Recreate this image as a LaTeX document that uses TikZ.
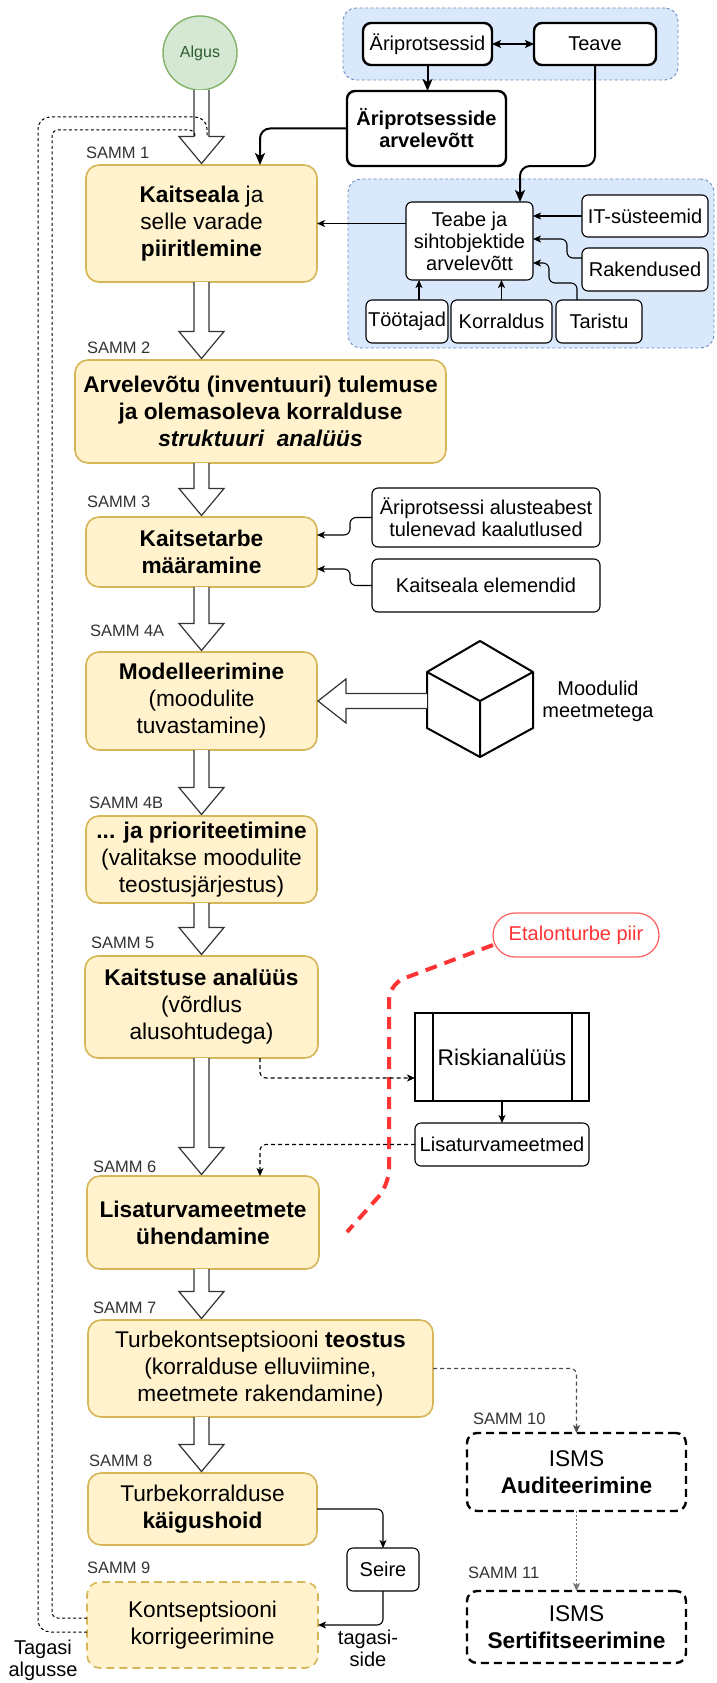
\documentclass[tikz,border=0pt]{standalone}
\usepackage{fontspec}
\setmainfont{Liberation Sans}
\usetikzlibrary{arrows.meta,calc}

\definecolor{yfill}{HTML}{FFF2CC}
\definecolor{ydraw}{HTML}{D6B656}
\definecolor{bfill}{HTML}{DAE8FC}
\definecolor{bdraw}{HTML}{6C8EBF}
\definecolor{gfill}{HTML}{D5E8D4}
\definecolor{gdraw}{HTML}{82B366}
\definecolor{gtext}{HTML}{2E5C2E}
\definecolor{redline}{HTML}{FF3333}
\definecolor{redpill}{HTML}{FF6666}
\definecolor{labelgray}{HTML}{333333}

\newcommand\fbig{\fontsize{22.7}{27}\selectfont}
\newcommand\fmid{\fontsize{20}{22}\selectfont}
\newcommand\fsmall{\fontsize{16.5}{19}\selectfont}

\tikzset{
  every node/.style={inner sep=0pt, outer sep=0pt},
  stepbox/.style={draw=ydraw, fill=yfill, line width=1.6pt, rounded corners=13pt,
    align=center, font=\fbig},
  groupbox/.style={draw=bdraw, fill=bfill, line width=0.9pt, dash pattern=on 3pt off 2.5pt,
    rounded corners=13pt},
  smallbox/.style={draw=black, fill=white, line width=1.1pt, rounded corners=6pt,
    align=center, font=\fmid},
  thickbox/.style={draw=black, fill=white, line width=2.4pt, rounded corners=8pt,
    align=center, font=\fmid},
  ismsbox/.style={draw=black, fill=white, line width=2.4pt, dash pattern=on 8pt off 5pt,
    rounded corners=10pt, align=center, font=\fbig},
  samm/.style={anchor=west, font=\fsmall, text=labelgray},
  note/.style={align=center, font=\fmid},
  blockarrow/.style={draw=black!80, fill=white, line width=1.2pt, line join=miter},
  thin tip/.style={-{Stealth[length=8pt,width=7pt,inset=2pt]}},
  conn/.style={draw=black, line width=1.1pt, rounded corners=6pt, thin tip},
  thickconn/.style={draw=black, line width=2pt, rounded corners=10pt,
    -{Stealth[length=12pt,width=10pt,inset=3pt]}},
  dashconn/.style={conn, dash pattern=on 4pt off 3pt},
  feedback/.style={draw=black, line width=1pt, dash pattern=on 3pt off 2.5pt},
  redbound/.style={draw=redline, line width=4pt, dash pattern=on 12pt off 8pt,
    rounded corners=16pt},
}

% hollow block arrow on the main axis, from one step box down to the next
\newcommand\blockdown[2]{%
  \filldraw[blockarrow] let \p1=(#1.south), \p2=(#2.north) in
    (194pt,\y1) -- (194pt,\y2+28.5pt) -- (179pt,\y2+28.5pt) -- (201.5pt,\y2+1.5pt)
    -- (224pt,\y2+28.5pt) -- (209pt,\y2+28.5pt) -- (209pt,\y1);}

\begin{document}
\begin{tikzpicture}[x=1pt, y=-1pt]
\fill[white] (0,0) rectangle (716,1683);
\useasboundingbox (0,0) rectangle (716,1683);

% ---------- blue groups ----------
\node[groupbox, minimum width=335pt, minimum height=72pt] (grpTop) at (510.5,44) {};
\node[groupbox, minimum width=366pt, minimum height=169pt] (grpBot) at (531,263.5) {};

% ---------- start ----------
\node[circle, draw=gdraw, fill=gfill, line width=1.4pt, minimum size=74pt,
      font=\fontsize{16}{18}\selectfont, text=gtext] (algus) at (200,53) {Algus};

% ---------- business processes ----------
\node[thickbox, minimum width=129pt, minimum height=42pt] (aripr) at (427.5,44) {Äriprotsessid};
\node[thickbox, minimum width=122pt, minimum height=42pt] (teave) at (595,44) {Teave};
\node[thickbox, minimum width=159pt, minimum height=75pt, font=\fmid\bfseries] (ariarv)
  at (426.5,128.5) {Äriprotsesside\\arvelevõtt};

% ---------- inventory of information and targets ----------
\node[smallbox, minimum width=127pt, minimum height=78pt] (teabe) at (469.5,241)
  {Teabe ja\\sihtobjektide\\arvelevõtt};
\node[smallbox, minimum width=126pt, minimum height=42pt] (itsys) at (645,216) {IT-süsteemid};
\node[smallbox, minimum width=126pt, minimum height=43pt] (raken) at (645,269.5) {Rakendused};
\node[smallbox, minimum width=82pt, minimum height=43pt] (tootajad) at (407,321.5) {Töötajad};
\node[smallbox, minimum width=101pt, minimum height=43pt] (korr) at (501.5,321.5) {Korraldus};
\node[smallbox, minimum width=86pt, minimum height=43pt] (taristu) at (599,321.5) {Taristu};

% ---------- main steps ----------
\node[stepbox, minimum width=231pt, minimum height=117pt] (kaitseala) at (201.5,223.5)
  {\textbf{Kaitseala} ja\\selle varade\\\textbf{piiritlemine}};
\node[stepbox, minimum width=371pt, minimum height=103pt, font=\fbig\bfseries] (arvel)
  at (260.5,411.5)
  {Arvelevõtu (inventuuri) tulemuse\\ja olemasoleva korralduse\\\textit{struktuuri\ \ analüüs}};
\node[stepbox, minimum width=231pt, minimum height=70pt, font=\fbig\bfseries] (kaitsetarbe)
  at (201.5,552) {Kaitsetarbe\\määramine};
\node[stepbox, minimum width=231pt, minimum height=98pt] (model) at (201.5,701)
  {\textbf{Modelleerimine}\\(moodulite\\tuvastamine)};
\node[stepbox, minimum width=231pt, minimum height=87pt] (prior) at (201.5,859.5)
  {\textbf{... ja prioriteetimine}\\(valitakse moodulite\\teostusjärjestus)};
\node[stepbox, minimum width=233pt, minimum height=102pt] (kaitstus) at (201.5,1007)
  {\textbf{Kaitstuse analüüs}\\(võrdlus\\alusohtudega)};
\node[stepbox, minimum width=232pt, minimum height=93pt, font=\fbig\bfseries] (lisaUh)
  at (203,1222.5) {Lisaturvameetmete\\ühendamine};
\node[stepbox, minimum width=345pt, minimum height=97pt] (turbekont) at (260.5,1368.5)
  {Turbekontseptsiooni \textbf{teostus}\\(korralduse elluviimine,\\meetmete rakendamine)};
\node[stepbox, minimum width=229pt, minimum height=72pt] (turbekorr) at (202.5,1509)
  {Turbekorralduse\\\textbf{käigushoid}};
\node[stepbox, dash pattern=on 8pt off 5pt, minimum width=231pt, minimum height=86pt]
  (korrig) at (202.5,1625) {Kontseptsiooni\\korrigeerimine};

% ---------- side inputs ----------
\node[smallbox, minimum width=228pt, minimum height=59pt] (ariAlus) at (486,517.5)
  {Äriprotsessi alusteabest\\tulenevad kaalutlused};
\node[smallbox, minimum width=228pt, minimum height=53pt] (kaitseEl) at (486,585.5)
  {Kaitseala elemendid};

% ---------- module cube ----------
\filldraw[draw=black, fill=white, line width=2pt, line join=round]
  (480,641) -- (533,672) -- (533,728) -- (480,757) -- (427,728) -- (427,672) -- cycle;
\draw[black, line width=2pt, line join=round] (427,672) -- (480,701) -- (533,672)
  (480,701) -- (480,757);
\coordinate (cubeL) at (427,701);
\node[note, text depth=0pt] (moodulid) at (598,699) {\fontsize{20}{24}\selectfont Moodulid\\meetmetega};

% ---------- risk analysis ----------
\node[draw=black, fill=white, line width=2.4pt, minimum width=174pt, minimum height=88pt,
      font=\fontsize{22.7}{27}\selectfont] (risk) at (502,1057) {Riskianalüüs};
\draw[black, line width=2pt] ([xshift=18pt]risk.north west) -- ([xshift=18pt]risk.south west)
  ([xshift=-17pt]risk.north east) -- ([xshift=-17pt]risk.south east);
\node[smallbox, minimum width=174pt, minimum height=43pt] (lisaMeet) at (502,1144.5)
  {Lisaturvameetmed};
\node[smallbox, minimum width=72pt, minimum height=43pt] (seire) at (383,1569.5) {Seire};

% ---------- ISMS ----------
\node[ismsbox, minimum width=219pt, minimum height=78pt] (audit) at (576.5,1472)
  {ISMS\\\textbf{Auditeerimine}};
\node[ismsbox, minimum width=219pt, minimum height=72pt] (sertif) at (576.5,1627)
  {ISMS\\\textbf{Sertifitseerimine}};

% ---------- baseline boundary ----------
\node[draw=redpill, fill=white, line width=1.3pt, rounded corners=22pt,
      minimum width=166pt, minimum height=44pt, font=\fmid, text=redline] (etalon)
  at (576,935) {Etalonturbe piir};
\coordinate (redEnd) at (347,1232);
\draw[redbound] ([yshift=-10pt]etalon.west) -- (389,984) -- (389,1185) -- (redEnd);

% ---------- main flow (hollow arrows) ----------
\blockdown{algus}{kaitseala}
\blockdown{kaitseala}{arvel}
\blockdown{arvel}{kaitsetarbe}
\blockdown{kaitsetarbe}{model}
\blockdown{model}{prior}
\blockdown{prior}{kaitstus}
\blockdown{kaitstus}{lisaUh}
\blockdown{lisaUh}{turbekont}
\blockdown{turbekont}{turbekorr}

% modules flowing into the modelling step
\filldraw[blockarrow] let \p1=(cubeL), \p2=(model.east) in
  (\x1,\y2+7.5pt) -- (\x2+29pt,\y2+7.5pt) -- (\x2+29pt,\y2+22pt) -- (\x2+1pt,\y2)
  -- (\x2+29pt,\y2-22pt) -- (\x2+29pt,\y2-7.5pt) -- (\x1,\y2-7.5pt);

% ---------- feedback to the start ----------
\coordinate (backOuter) at (207,137);
\coordinate (backInner) at (195,137);
\draw[feedback, rounded corners=12pt] ([yshift=-7pt]korrig.west) -| (38,117) -- (207,117) -- (backOuter);
\draw[feedback, rounded corners=6pt] ([yshift=7pt]korrig.west) -| (52,130) -- (195,130) -- (backInner);

% ---------- connectors ----------
\draw[draw=black, line width=1.5pt, {Stealth[length=9pt,width=8pt,inset=2pt]}-{Stealth[length=9pt,width=8pt,inset=2pt]}]
  (aripr.east) -- (teave.west);
\draw[thickconn] (aripr.south) -- (aripr.south |- ariarv.north);
\draw[thickconn] (ariarv.west) -| ([xshift=58.5pt]kaitseala.north);
\draw[thickconn] (teave.south) |- ($(teabe.north)+(50.5,-36)$) -- ([xshift=50.5pt]teabe.north);

\draw[conn] (itsys.west) -- (itsys.west -| teabe.east);
\draw[conn] ([yshift=11.5pt]raken.west) -- ++(-15,0) |- ([yshift=2pt]teabe.east);
\draw[conn] ([xshift=-22pt]taristu.north) -- ++(0,-17) -- ++(-28,0) |- ([yshift=-22pt]teabe.east);
\draw[conn] ([xshift=12pt]tootajad.north) -- ([xshift=12pt]tootajad.north |- teabe.south);
\draw[conn] (korr.north) -- (korr.north |- teabe.south);
\draw[conn] (teabe.west |- kaitseala.east) -- (kaitseala.east);

\draw[conn] (ariAlus.west) -- ++(-22,0) |- ([yshift=17pt]kaitsetarbe.east);
\draw[conn] (kaitseEl.west) -- ++(-22,0) |- ([yshift=-17pt]kaitsetarbe.east);

\draw[dashconn] ([xshift=58.5pt]kaitstus.south) |- ([yshift=-21pt]risk.west);
\draw[conn] (risk.south) -- (lisaMeet.north);
\draw[dashconn] (lisaMeet.west) -| ([xshift=57pt]lisaUh.north);

\draw[dashconn, draw=black!70] (turbekont.east) -| (audit.north);
\draw[conn, draw=black!55, line width=1.5pt, dash pattern=on 2pt off 2pt] (audit.south) -- (sertif.north);

\draw[conn] (turbekorr.east) -| (seire.north);
\draw[conn] (seire.south) |- (korrig.east);

% ---------- labels ----------
\node[samm] (s1) at (86,153) {SAMM 1};
\node[samm] (s2) at (87,348) {SAMM 2};
\node[samm] (s3) at (87,502) {SAMM 3};
\node[samm] (s4a) at (90,631) {SAMM 4A};
\node[samm] (s4b) at (89,803) {SAMM 4B};
\node[samm] (s5) at (91,943) {SAMM 5};
\node[samm] (s6) at (93,1167) {SAMM 6};
\node[samm] (s7) at (93,1308) {SAMM 7};
\node[samm] (s8) at (89,1461) {SAMM 8};
\node[samm] (s9) at (87,1568) {SAMM 9};
\node[samm] (s10) at (473,1419) {SAMM 10};
\node[samm] (s11) at (468,1573) {SAMM 11};

\node[note] (tagasi) at (43,1660) {Tagasi\\algusse};
\node[note] (tagasiside) at (368,1648) {tagasi-\\side};
\end{tikzpicture}
\end{document}
